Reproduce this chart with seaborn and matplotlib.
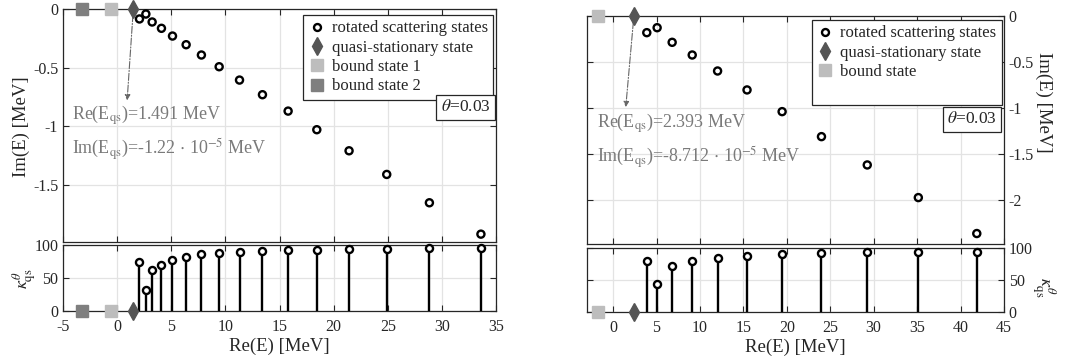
import numpy as np
import pandas as pd
import matplotlib
matplotlib.use('Agg')
import matplotlib.pyplot as plt
import seaborn as sns
from matplotlib.lines import Line2D

# ---- left panel data ----
re_scat_1 = [2.06, 2.65, 3.23, 4.09, 5.11, 6.37, 7.78, 9.42, 11.3, 13.42,
             15.79, 18.44, 21.42, 24.9, 28.84, 33.6]
im_scat_1 = [-0.085, -0.043, -0.111, -0.165, -0.231, -0.305, -0.393, -0.493,
             -0.607, -0.732, -0.872, -1.031, -1.211, -1.413, -1.655, -1.923]
kappa_1 = [75, 32, 62, 70, 77, 82, 86, 88, 90, 91, 92, 93, 94, 94, 95, 95]
re_qs_1 = 1.491
re_bound_1 = [-0.55, -3.26]   # bound state 1, bound state 2

# ---- right panel data ----
re_scat_2 = [3.88, 5.07, 6.8, 9.11, 12.03, 15.42, 19.46, 23.99, 29.26, 35.14, 41.87]
im_scat_2 = [-0.181, -0.127, -0.286, -0.424, -0.598, -0.804, -1.04, -1.312,
             -1.62, -1.975, -2.366]
kappa_2 = [80, 44, 72, 79, 84, 88, 90, 92, 93, 94, 94]
re_qs_2 = 2.393
re_bound_2 = [-1.77]

sns.set_theme(style="ticks")
plt.rcParams['font.family'] = ['Liberation Serif', 'DejaVu Serif']
plt.rcParams['mathtext.fontset'] = 'stix'
plt.rcParams['axes.unicode_minus'] = False
plt.rcParams['xtick.direction'] = 'in'
plt.rcParams['ytick.direction'] = 'in'

dark = '#262626'
qs_col = '#555555'
b1_col = '#bdbdbd'
b2_col = '#7f7f7f'
txt_col = '#7a7a7a'

W, H = 1065, 360
fig = plt.figure(figsize=(10.65, 3.6), dpi=100)
axL = fig.add_axes([0.0592, 0.3278, 0.4066, 0.6472])
axLb = fig.add_axes([0.0592, 0.1361, 0.4066, 0.1833])
axR = fig.add_axes([0.5512, 0.3222, 0.3915, 0.6333])
axRb = fig.add_axes([0.5512, 0.1333, 0.3915, 0.1778])


def style_axes(ax):
    for s in ax.spines.values():
        s.set_color(dark)
        s.set_linewidth(0.9)
    ax.tick_params(axis='both', which='both', top=True, right=True, length=4,
                   width=0.8, color=dark, labelcolor=dark, labelsize=11.5)
    ax.grid(True, color='#e3e3e3', linewidth=0.9)
    ax.set_axisbelow(True)


def draw_panel(ax, axb, re_s, im_s, kap, re_qs, bounds, bcols, xlim, xticks,
               ylim, yticks):
    style_axes(ax)
    style_axes(axb)
    df = pd.DataFrame({'re': re_s, 'im': im_s, 'kappa': kap})
    sns.scatterplot(data=df, x='re', y='im', ax=ax, marker='o', s=26,
                    facecolor='none', edgecolor='black', linewidth=1.7,
                    legend=False, zorder=4)
    ax.plot([re_qs], [0], marker='d', markersize=9, color=qs_col,
            linestyle='none', clip_on=False, zorder=5)
    for xb, cb in zip(bounds, bcols):
        ax.plot([xb], [0], marker='s', markersize=8, color=cb,
                linestyle='none', clip_on=False, zorder=5)
    ax.set_xlim(*xlim)
    ax.set_ylim(*ylim)
    ax.set_xticks(xticks)
    ax.set_yticks(yticks)
    ax.set_yticklabels([f'{v:g}' for v in yticks])
    ax.tick_params(labelbottom=False)
    ax.set_xlabel('')
    ax.set_ylabel('')

    # stems
    axb.vlines(df['re'], 0, df['kappa'], color='black', linewidth=1.7, zorder=3)
    sns.scatterplot(data=df, x='re', y='kappa', ax=axb, marker='o', s=26,
                    facecolor='white', edgecolor='black', linewidth=1.7,
                    legend=False, zorder=4, clip_on=False)
    axb.plot([re_qs], [0], marker='d', markersize=9, color=qs_col,
             linestyle='none', clip_on=False, zorder=5)
    for xb, cb in zip(bounds, bcols):
        axb.plot([xb], [0], marker='s', markersize=8, color=cb,
                 linestyle='none', clip_on=False, zorder=5)
    axb.set_xlim(*xlim)
    axb.set_ylim(0, 100)
    axb.set_xticks(xticks)
    axb.set_yticks([0, 50, 100])
    axb.tick_params(axis='x', pad=6)
    axb.set_xlabel('Re(E) [MeV]', fontsize=13.5, color=dark, labelpad=2)
    axb.set_ylabel('')


# left
draw_panel(axL, axLb, re_scat_1, im_scat_1, kappa_1, re_qs_1, re_bound_1,
           [b1_col, b2_col], (-5, 35), list(range(-5, 36, 5)), (-1.99, 0),
           [-1.5, -1, -0.5, 0])

# right
draw_panel(axR, axRb, re_scat_2, im_scat_2, kappa_2, re_qs_2, re_bound_2,
           [b1_col], (-3, 45), list(range(0, 46, 5)), (-2.48, 0),
           [-2, -1.5, -1, -0.5, 0])
for a in (axR, axRb):
    a.tick_params(labelleft=False, labelright=True)

# y labels placed in figure pixels
fig.text(21 / W, 1 - 127 / H, 'Im(E) [MeV]', fontsize=13.5, color=dark,
         rotation=90, ha='center', va='center')
fig.text(24 / W, 1 - 279 / H, r'$\kappa^{\theta}_{\rm qs}$', fontsize=13,
         color=dark, rotation=90, ha='center', va='center')
fig.text(1044 / W, 1 - 102 / H, 'Im(E) [MeV]', fontsize=13.5, color=dark,
         rotation=270, ha='center', va='center')
fig.text(1044 / W, 1 - 287 / H, r'$\kappa^{\theta}_{\rm qs}$', fontsize=13,
         color=dark, rotation=270, ha='center', va='center')

# arrows and annotation text
for ax, re_qs, tip, tx, ty, re_lbl, im_lbl in [
        (axL, re_qs_1, (0.92, -0.78), -4.2, (-0.905, -1.2), '1.491',
         r'-1.22 $\cdot$ 10$^{-5}$'),
        (axR, re_qs_2, (1.46, -0.99), -1.9, (-1.17, -1.54), '2.393',
         r'-8.712 $\cdot$ 10$^{-5}$')]:
    ax.annotate('', xy=tip, xytext=(re_qs, 0),
                arrowprops=dict(arrowstyle='-|>', linestyle='-.', color='#666666',
                                lw=0.8, mutation_scale=8, shrinkA=4, shrinkB=0),
                zorder=3)
    ax.text(tx, ty[0], r'Re(E$_{\rm qs}$)=' + re_lbl + ' MeV', color=txt_col,
            fontsize=13, va='center', ha='left')
    ax.text(tx, ty[1], r'Im(E$_{\rm qs}$)=' + im_lbl + ' MeV', color=txt_col,
            fontsize=13, va='center', ha='left')

# legends
h_scat = Line2D([], [], marker='o', linestyle='none', markerfacecolor='none',
                markeredgecolor='black', markeredgewidth=1.7, markersize=5)
h_qs = Line2D([], [], marker='d', linestyle='none', color=qs_col, markersize=9)
h_b1 = Line2D([], [], marker='s', linestyle='none', color=b1_col, markersize=8)
h_b2 = Line2D([], [], marker='s', linestyle='none', color=b2_col, markersize=8)
h_blank = Line2D([], [], linestyle='none')

leg_kw = dict(loc='upper right', borderaxespad=0, fancybox=False,
              edgecolor=dark, framealpha=1, fontsize=12, handlelength=1.0,
              handletextpad=0.4, labelspacing=0.2, borderpad=0.32)
legL = axL.legend([h_scat, h_qs, h_b1, h_b2],
                  ['rotated scattering states', 'quasi-stationary state',
                   'bound state 1', 'bound state 2'],
                  bbox_to_anchor=(0.993, 0.974), **leg_kw)
legR = axR.legend([h_scat, h_qs, h_b1, h_blank],
                  ['rotated scattering states', 'quasi-stationary state',
                   'bound state', ' '],
                  bbox_to_anchor=(0.995, 0.982), **leg_kw)
for lg in (legL, legR):
    lg.get_frame().set_linewidth(0.9)
    for t in lg.get_texts():
        t.set_color(dark)

box_kw = dict(boxstyle='square,pad=0.25', facecolor='white', edgecolor=dark,
              linewidth=0.9)
axL.text(0.987, 0.612, r'$\theta$=0.03', transform=axL.transAxes, ha='right',
         va='top', fontsize=12.5, color=dark, bbox=box_kw, zorder=6)
axR.text(0.983, 0.582, r'$\theta$=0.03', transform=axR.transAxes, ha='right',
         va='top', fontsize=12.5, color=dark, bbox=box_kw, zorder=6)

fig.savefig('out.png', dpi=100)
